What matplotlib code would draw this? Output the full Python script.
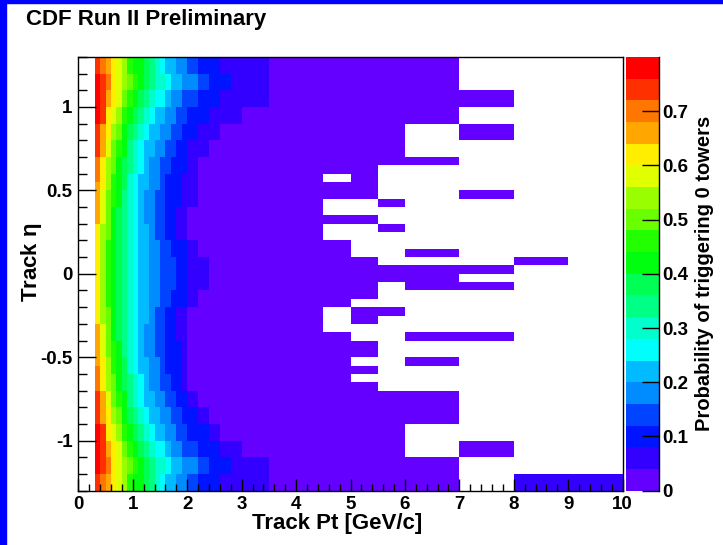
import matplotlib

matplotlib.use("Agg")
import matplotlib.pyplot as plt
import numpy as np
from matplotlib.colors import BoundaryNorm, ListedColormap
from matplotlib.patches import Rectangle
from matplotlib.ticker import FuncFormatter, MultipleLocator

plt.rcParams.update({"font.family": ["Liberation Sans", "DejaVu Sans"],
                     "font.weight": "bold", "axes.unicode_minus": False})

# ---- histogram binning -------------------------------------------------
pt_edges = [0.0, 0.1, 0.2, 0.3, 0.4, 0.5, 0.6, 0.7, 0.8, 0.9, 1.0,
            1.1, 1.2, 1.3, 1.4, 1.5, 1.6, 1.7, 1.8, 1.9, 2.0,
            2.2, 2.4, 2.6, 2.8, 3.0, 3.5, 4.0, 4.5, 5.0, 5.5, 6.0,
            6.5, 7.0, 7.5, 8.0, 8.5, 9.0, 9.5, 10.0]
eta_edges = np.round(np.linspace(-1.3, 1.3, 53), 2)   # 0.05 wide bins

# palette band of each bin: '0'..'9','a'..'j' = bands 0..19 (0.04 wide), '.' = empty
# one string per eta bin, top (eta = +1.3) first
# pt 0.0-0.3 : always empty
# pt 0.3-3.5 : 23 bins (0.1 up to 2, 0.2 up to 3, then 3-3.5)
low_pt = [
    "ihgfedbaa98765544322111",  # 1.30
    "ihgfedbaa98765544322111",
    "jihfedcba98776554432211",  # 1.20
    "jihfedcba98776554432211",
    "jigfecba987665443322111",  # 1.10
    "jigfecba987665443322111",
    "jifedba9876554433221110",  # 1.00
    "jifedba9876554433221110",
    "igfdca98765544332211000",  # 0.90
    "igfdca98765544332211000",
    "igecba87655443322110000",  # 0.80
    "igecba87655443322110000",
    "hfdca987654433222100000",  # 0.70
    "hfdca987654433222100000",
    "hfdba976554432221100000",  # 0.60
    "gfdba976554432221100000",
    "gecba876544332221100000",  # 0.50
    "gecba876544332221100000",
    "geca9876544332211000000",  # 0.40
    "geca9876544332211000000",
    "fdca9876554332211000000",  # 0.30
    "fdca9876554332211000000",
    "fdba9876554433222100000",  # 0.20
    "fdba9876554433222100000",
    "fdba9876554433322110000",  # 0.10
    "fdba9876554433322110000",
    "fdba9876554433322110000",  # 0.00
    "fdba9876554433322110000",
    "fdba9876554433222100000",  # -0.10
    "fdba9876554433222100000",
    "fdca9876554332211000000",  # -0.20
    "fdca9876554332211000000",
    "geca9876544332211000000",  # -0.30
    "geca9876544332211000000",
    "gecba876544332221000000",  # -0.40
    "gecba876544332221000000",
    "gfdba976554432221000000",  # -0.50
    "hfdba976554432221000000",
    "hfdca987654433221000000",  # -0.60
    "hfdca987654433221000000",
    "igecba87655443322100000",  # -0.70
    "igecba87655443322100000",
    "igfdca98765544332210000",  # -0.80
    "igfdca98765544332210000",
    "jifedba9876554433221000",  # -0.90
    "jifedba9876554433221000",
    "jigfecba987665443322110",  # -1.00
    "jigfecba987665443322110",
    "jihfedcba98776554432211",  # -1.10
    "jihfedcba98776554432211",
    "ihgfedbaa98765544322111",  # -1.20
    "ihgfedbaa98765544322111",
]
# pt 3.5-10 : 13 bins of 0.5
high_pt = [
    "0000000......",  # 1.30
    "0000000......",
    "0000000......",  # 1.20
    "0000000......",
    "000000000....",  # 1.10
    "000000000....",
    "0000000......",  # 1.00
    "0000000......",
    "00000..00....",  # 0.90
    "00000..00....",
    "00000........",  # 0.80
    "00000........",
    "0000000......",  # 0.70
    "0000.........",
    "00.0.........",  # 0.60
    "0000.........",
    "0000...00....",  # 0.50
    "00..0........",
    "00...........",  # 0.40
    "0000.........",
    "00..0........",  # 0.30
    "00...........",
    "000..........",  # 0.20
    "000..00......",
    "0000.....00..",  # 0.10
    "000000000....",
    "0000000......",  # 0.00
    "0000.0000....",
    "0000.........",  # -0.10
    "000..........",
    "00.00........",  # -0.20
    "00.0.........",
    "00...........",  # -0.30
    "000..0000....",
    "0000.........",  # -0.40
    "0000.........",
    "000..00......",  # -0.50
    "0000.........",
    "000..........",  # -0.60
    "0000.........",
    "0000000......",  # -0.70
    "0000000......",
    "0000000......",  # -0.80
    "0000000......",
    "00000........",  # -0.90
    "00000........",
    "00000..00....",  # -1.00
    "00000..00....",
    "0000000......",  # -1.10
    "0000000......",
    "0000000..1111",  # -1.20
    "0000000..1111",
]

# ROOT "pretty" palette, 20 contour bands between 0 and 0.8
palette = ["#6300ff", "#3300ff", "#0014ff", "#0044ff", "#008bff",
           "#00bbff", "#00fffc", "#00ffcc", "#00ff85", "#00ff55",
           "#00ff0e", "#22ff00", "#69ff00", "#99ff00", "#e0ff00",
           "#ffee00", "#ffa700", "#ff7700", "#ff3000", "#ff0000"]
levels = np.linspace(0.0, 0.8, 21)
cbar_ticks = [0, 0.1, 0.2, 0.3, 0.4, 0.5, 0.6, 0.7]

BAND_CHARS = "0123456789abcdefghij"


def decode(row):
    out = []
    for ch in row:
        if ch == ".":
            out.append(np.nan)
        else:
            k = BAND_CHARS.index(ch)
            out.append((levels[k] + levels[k + 1]) / 2)
    return out


nbins = len(pt_edges) - 1
rows = ["..." + lo + hi for lo, hi in zip(low_pt, high_pt)]
rows = [(r + "." * nbins)[:nbins] for r in rows]
prob = np.ma.masked_invalid(np.array([decode(r) for r in rows])[::-1])  # bottom first

W, H = 723, 545
fig = plt.figure(figsize=(W / 100, H / 100), dpi=100)
fig.patch.set_facecolor("white")
# blue frame of the original canvas
fig.patches.append(Rectangle((0, 0), 6 / W, 1, transform=fig.transFigure,
                             color="#0000ff", zorder=10))
fig.patches.append(Rectangle((0, 1 - 2.5 / H), 1, 2.5 / H, transform=fig.transFigure,
                             color="#0000ff", zorder=10))

x0, x1, y0, y1 = 78.3, 622.7, 56.9, 490.7
ax = fig.add_axes([x0 / W, 1 - y1 / H, (x1 - x0) / W, (y1 - y0) / H])
cmap = ListedColormap(palette)
norm = BoundaryNorm(levels, cmap.N)
mesh = ax.pcolormesh(pt_edges, eta_edges, prob, cmap=cmap, norm=norm,
                     shading="flat", edgecolors="none", antialiased=False)

ax.set_xlim(0, 10)
ax.set_ylim(-1.3, 1.3)
ax.xaxis.set_major_locator(MultipleLocator(1))
ax.xaxis.set_minor_locator(MultipleLocator(0.2))
ax.yaxis.set_major_locator(MultipleLocator(0.5))
ax.yaxis.set_minor_locator(MultipleLocator(0.1))
ax.xaxis.set_major_formatter(FuncFormatter(lambda v, p: f"{v:g}"))
ax.yaxis.set_major_formatter(FuncFormatter(lambda v, p: f"{v:g}"))
ax.tick_params(axis="both", which="both", direction="in", top=False, right=False,
               labelsize=13.5, width=1)
ax.tick_params(axis="x", which="major", length=9, pad=4)
ax.tick_params(axis="x", which="minor", length=4.8)
ax.tick_params(axis="y", which="major", length=13, pad=4)
ax.tick_params(axis="y", which="minor", length=6.8)
for s in ax.spines.values():
    s.set_linewidth(1)

ax.set_xlabel("Track Pt [GeV/c]", fontsize=16, fontweight="bold")
ax.xaxis.set_label_coords((337 - x0) / (x1 - x0), -(523 - y1) / (y1 - y0))
ax.xaxis.label.set_va("center")
ax.set_ylabel("Track $\\mathregular{\\eta}$", fontsize=16, fontweight="bold")
ax.yaxis.set_label_coords(-(x0 - 31) / (x1 - x0), (y1 - 262) / (y1 - y0))
ax.yaxis.label.set_va("center")

# palette axis
cax = fig.add_axes([626 / W, 1 - y1 / H, 33.3 / W, (y1 - y0) / H])
cb = fig.colorbar(mesh, cax=cax, ticks=cbar_ticks)
cb.outline.set_visible(False)
cax.set_yticklabels([f"{t:g}" for t in cbar_ticks])
cax.tick_params(axis="y", which="major", direction="in", length=12, width=1,
                labelsize=13.5, pad=2, right=True, left=False)
cax.minorticks_off()
cax.plot([1, 1], [0, 0.8], color="black", lw=1, clip_on=False)
fig.text(705 / W, 1 - 273.8 / H, "Probability of triggering 0 towers",
         rotation=90, ha="center", va="center", fontsize=14.5, fontweight="bold")

fig.text(26 / W, 1 - 20 / H, "CDF Run II Preliminary", ha="left", va="center",
         fontsize=16, fontweight="bold")

fig.savefig("out.png", dpi=100)
